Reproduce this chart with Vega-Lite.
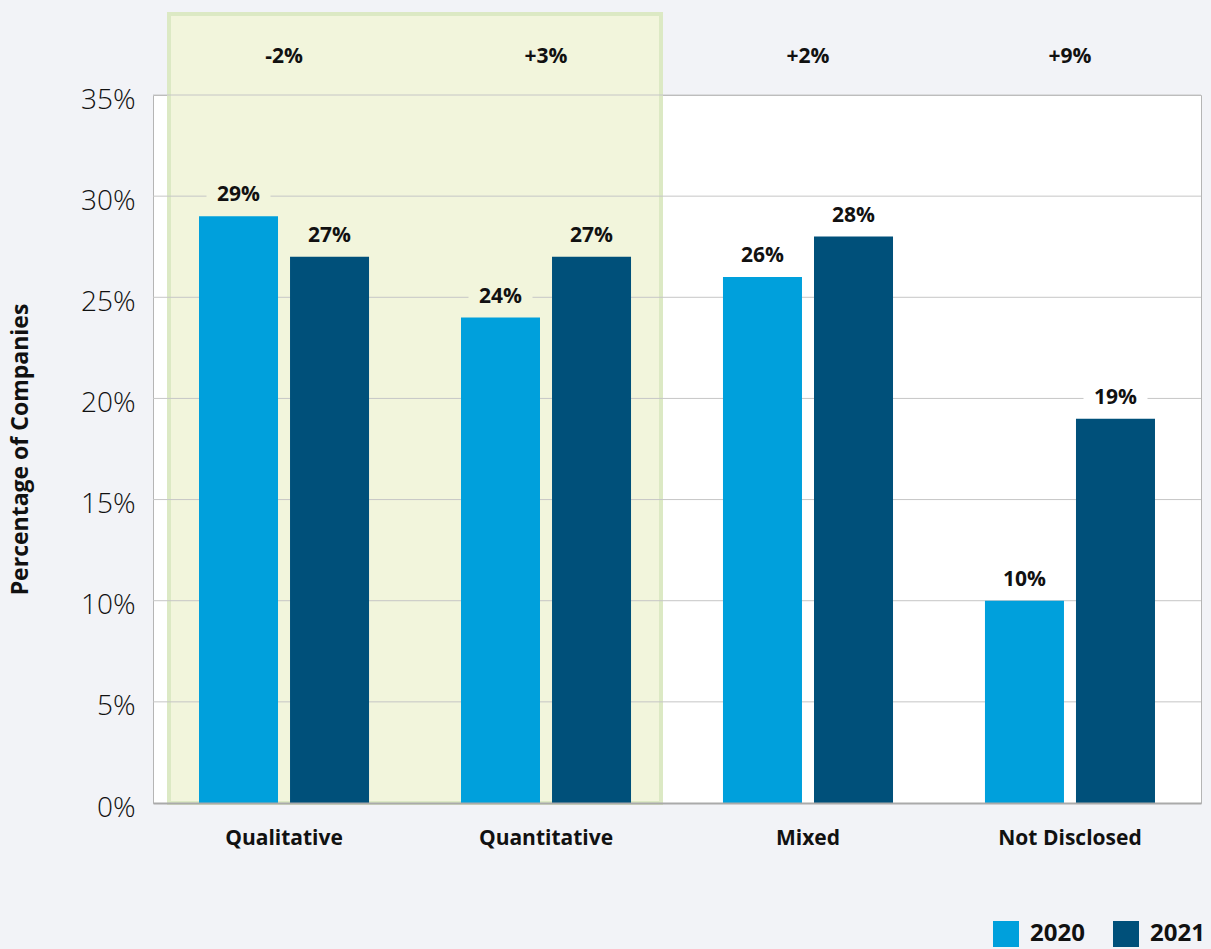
{
  "$schema": "https://vega.github.io/schema/vega-lite/v6.json",
  "width": 1048,
  "height": 708,
  "autosize": {"type": "none"},
  "padding": {"left": 153, "top": 95, "right": 10, "bottom": 146},
  "background": "#f2f3f7",
  "config": {
    "view": {"fill": "white", "stroke": "#b5b5b5", "strokeWidth": 1},
    "font": "Open Sans"
  },
  "data": {
    "values": [
      {"category": "Qualitative", "year": "2020", "value": 0.29},
      {"category": "Qualitative", "year": "2021", "value": 0.27},
      {"category": "Quantitative", "year": "2020", "value": 0.24},
      {"category": "Quantitative", "year": "2021", "value": 0.27},
      {"category": "Mixed", "year": "2020", "value": 0.26},
      {"category": "Mixed", "year": "2021", "value": 0.28},
      {"category": "Not Disclosed", "year": "2020", "value": 0.10},
      {"category": "Not Disclosed", "year": "2021", "value": 0.19}
    ]
  },
  "resolve": {"scale": {"x": "independent"}, "axis": {"x": "independent"}},
  "layer": [
    {
      "data": {"values": [{}]},
      "mark": {"type": "rect", "fill": "#f2f5dc", "stroke": "#dce9c4", "strokeWidth": 4, "xOffset": 16, "x2Offset": -16, "y2Offset": -81},
      "encoding": {
        "x": {"datum": 0, "type": "quantitative", "scale": {"domain": [0, 4], "nice": false, "zero": false}, "axis": null},
        "x2": {"datum": 2},
        "y": {"datum": 0, "type": "quantitative", "scale": {"domain": [0, 0.35], "nice": false},
          "axis": {"title": "Percentage of Companies", "titleFontSize": 23, "titleFontWeight": "bold", "titleColor": "#111", "titlePadding": 48,
            "labelFontSize": 28, "labelFontWeight": 300, "labelColor": "#111", "format": ".0%", "values": [0, 0.05, 0.1, 0.15, 0.2, 0.25, 0.3, 0.35],
            "ticks": false, "grid": false, "domain": false, "labelPadding": 18, "labelOffset": 5}},
        "y2": {"datum": 0.35}
      }
    },
    {
      "layer": [
        {
          "data": {"values": [{"g": 0.05}, {"g": 0.10}, {"g": 0.15}, {"g": 0.20}, {"g": 0.25}, {"g": 0.30}, {"g": 0.35}]},
          "mark": {"type": "rule", "color": "#c6c6c6", "strokeWidth": 1},
          "encoding": {"y": {"field": "g", "type": "quantitative"}}
        },
        {
          "mark": {"type": "tick", "size": 64, "thickness": 24, "yOffset": -21, "opacity": 1},
          "encoding": {
            "x": {"field": "category", "type": "nominal", "sort": null},
            "xOffset": {"field": "year", "type": "nominal"},
            "y": {"field": "value", "type": "quantitative"},
            "color": {"condition": {"test": "datum.category == 'Qualitative' || datum.category == 'Quantitative'", "value": "#f2f5dc"}, "value": "white"}
          }
        },
        {
          "mark": {"type": "bar"},
          "encoding": {
            "x": {"field": "category", "type": "nominal", "sort": null,
              "scale": {"paddingInner": 0.351, "paddingOuter": 0.1756},
              "axis": {"title": null, "labelAngle": 0, "labelAlign": "center", "bandPosition": 0.5, "labelFontSize": 21, "labelFontWeight": "bold", "labelColor": "#111", "ticks": false,
                "domain": true, "domainColor": "#aaaaaa", "domainWidth": 2, "labelPadding": 35, "zindex": 1}},
            "xOffset": {"field": "year", "type": "nominal", "scale": {"paddingInner": 0.132, "paddingOuter": 0}},
            "y": {"field": "value", "type": "quantitative"},
            "color": {"field": "year", "type": "nominal",
              "scale": {"domain": ["2020", "2021"], "range": ["#00a0dc", "#00507a"]},
              "legend": {"orient": "none", "legendX": 840, "legendY": 826, "direction": "horizontal", "title": null,
                "symbolType": "square", "symbolSize": 676, "symbolStrokeWidth": 0, "symbolOpacity": 1,
                "labelFontSize": 24, "labelFontWeight": "bold", "labelColor": "#111", "labelOffset": 11, "columnPadding": 28, "padding": 0}}
          }
        },
        {
          "mark": {"type": "text", "fontSize": 21, "fontWeight": "bold", "color": "#111", "baseline": "middle", "dy": -21},
          "encoding": {
            "x": {"field": "category", "type": "nominal", "sort": null},
            "xOffset": {"field": "year", "type": "nominal"},
            "y": {"field": "value", "type": "quantitative"},
            "text": {"field": "value", "type": "quantitative", "format": ".0%"}
          }
        },
        {
          "data": {"values": [
            {"category": "Qualitative", "change": "-2%"},
            {"category": "Quantitative", "change": "+3%"},
            {"category": "Mixed", "change": "+2%"},
            {"category": "Not Disclosed", "change": "+9%"}
          ]},
          "mark": {"type": "text", "fontSize": 21, "fontWeight": "bold", "color": "#111", "baseline": "middle", "dy": -38},
          "encoding": {
            "x": {"field": "category", "type": "nominal", "sort": null},
            "y": {"datum": 0.35, "type": "quantitative"},
            "text": {"field": "change", "type": "nominal"}
          }
        }
      ]
    }
  ]
}
